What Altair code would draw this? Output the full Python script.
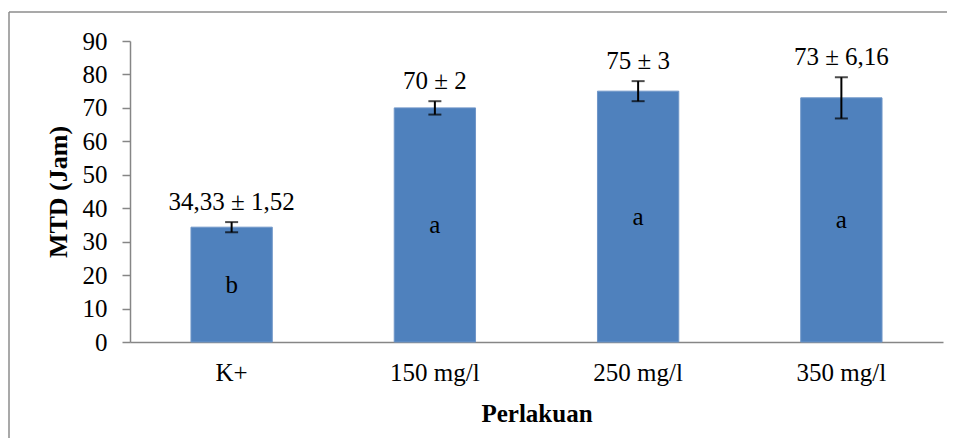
import altair as alt
import pandas as pd

categories = ["K+", "150 mg/l", "250 mg/l", "350 mg/l"]
means = [34.33, 70, 75, 73]
sds = [1.52, 2, 3, 6.16]
labels = ["34,33 ± 1,52", "70 ± 2", "75 ± 3", "73 ± 6,16"]
letters = ["b", "a", "a", "a"]
y_ticks = [0, 10, 20, 30, 40, 50, 60, 70, 80, 90]

df = pd.DataFrame({
    "cat": categories,
    "mean": means,
    "sd": sds,
    "label": labels,
    "letter": letters,
})

FONT = "Liberation Serif"
FS = 25

yscale = alt.Scale(domain=[0, 90])
yaxis = alt.Axis(
    title="MTD (Jam)",
    values=y_ticks,
    labelOverlap=False,
    grid=False,
    tickSize=8,
    tickColor="#868686",
    domainColor="#868686",
    domainWidth=1.5,
    tickWidth=1.5,
    labelPadding=15,
    titlePadding=11,
    titleFontSize=26,
)
xenc = alt.X(
    "cat:N",
    sort=categories,
    scale=alt.Scale(paddingInner=0.6, paddingOuter=0.3),
    axis=alt.Axis(
        title="Perlakuan",
        labelAngle=0,
        ticks=False,
        labelPadding=18,
        titlePadding=16,
        domainColor="#868686",
        domainWidth=1.5,
    ),
)

base = alt.Chart(df).transform_calculate(
    lo="datum.mean - datum.sd",
    hi="datum.mean + datum.sd",
    mid="datum.mean / 2",
)

bars = base.mark_bar(color="#4F81BD", stroke="#6F96C8", strokeWidth=1).encode(
    x=xenc,
    y=alt.Y("mean:Q", scale=yscale, axis=yaxis),
)

err = base.mark_rule(color="black", strokeWidth=2).encode(
    x=xenc,
    y=alt.Y("lo:Q", scale=yscale, axis=yaxis),
    y2="hi:Q",
)
cap_lo = base.mark_tick(color="black", thickness=2, size=13).encode(
    x=xenc, y=alt.Y("lo:Q", scale=yscale, axis=yaxis)
)
cap_hi = base.mark_tick(color="black", thickness=2, size=13).encode(
    x=xenc, y=alt.Y("hi:Q", scale=yscale, axis=yaxis)
)

lab = base.mark_text(
    font=FONT, fontSize=FS, color="black", baseline="alphabetic", dy=-12
).encode(x=xenc, y=alt.Y("hi:Q", scale=yscale, axis=yaxis), text="label:N")

let = base.mark_text(
    font=FONT, fontSize=FS, color="black", baseline="middle"
).encode(x=xenc, y=alt.Y("mid:Q", scale=yscale, axis=yaxis), text="letter:N")

frame_src = alt.Chart(alt.Data(values=[{"a": 1}]))
frame_top = frame_src.mark_rule(color="#8c8c8c", strokeWidth=1.5).encode(
    x=alt.value(-121), x2=alt.value(823), y=alt.value(-29)
)
frame_left = frame_src.mark_rule(color="#8c8c8c", strokeWidth=1.5).encode(
    x=alt.value(-121), y=alt.value(-29), y2=alt.value(420)
)

chart = (
    alt.layer(frame_top, frame_left, bars, err, cap_lo, cap_hi, lab, let)
    .properties(
        width=813,
        height=301,
        autosize=alt.AutoSizeParams(type="none"),
        padding={"left": 122, "top": 33, "right": 4, "bottom": 96},
        background="white",
    )
    .configure_view(strokeWidth=0)
    .configure_axis(
        labelFont=FONT,
        labelFontSize=FS,
        labelColor="black",
        titleFont=FONT,
        titleFontSize=FS,
        titleFontWeight="bold",
        titleColor="black",
    )
)

chart.save("out.html", embed_options={"renderer": "svg", "actions": False})
